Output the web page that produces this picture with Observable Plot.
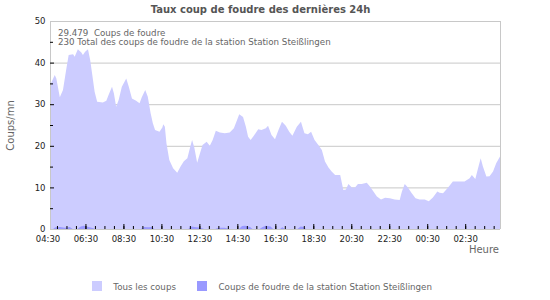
<!DOCTYPE html>
<html>
<head>
<meta charset="utf-8">
<script src="https://cdn.jsdelivr.net/npm/d3@7"></script>
<script src="https://cdn.jsdelivr.net/npm/@observablehq/plot@0.6"></script>
<style>
  body { margin: 0; background: #fff; }
  #wrap { position: relative; width: 550px; height: 300px; font-family: "DejaVu Sans", sans-serif; }
  #wrap svg { position: absolute; left: 0; top: 0; }
  .sw { position: absolute; top: 281px; width: 10px; height: 10px; }
  .leg { position: absolute; top: 281.5px; font-size: 8.7px; line-height: 10px; color: #666; white-space: nowrap; }
</style>
</head>
<body>
<div id="wrap"></div>
<script>
// ---- texts ----
const title = "Taux coup de foudre des dernières 24h";
const yLabel = "Coups/mn";
const xLabel = "Heure";
const noteLine1 = "29.479\u00a0 Coups de foudre";
const noteLine2 = "230 Total des coups de foudre de la station Station Steißlingen";
const seriesNames = ["Tous les coups", "Coups de foudre de la station Station Steißlingen"];
const seriesColors = ["#ccccff", "#9999ff"];

// ---- axis ----
const startTime = "04:38";
const endTime = "04:20";
const xTickLabels = ["04:30","06:30","08:30","10:30","12:30","14:30","16:30","18:30","20:30","22:30","00:30","02:30"];
const yTicks = [0, 10, 20, 30, 40, 50];
const yGridTicks = [10, 20, 30, 40];
const yMinorTicks = [5, 15, 25, 35, 45];

// ---- series: all strikes (strikes per minute) ----
const allTimes = ["04:38","04:53","04:58","05:09","05:19","05:29","05:37","05:51","05:56","06:06","06:17","06:22","06:29","06:38","06:45","06:51","06:59","07:07","07:25","07:36","07:43","07:54","08:00","08:07","08:15","08:25","08:39","08:47","08:57","09:10","09:21","09:28","09:39","09:47","09:56","10:03","10:10","10:24","10:33","10:36","10:41","10:46","10:55","11:07","11:20","11:31","11:41","11:52","12:00","12:07","12:14","12:23","12:32","12:40","12:53","13:03","13:12","13:22","13:35","13:50","14:06","14:19","14:27","14:36","14:48","14:57","15:04","15:12","15:22","15:36","15:46","16:00","16:07","16:18","16:29","16:40","16:51","17:03","17:14","17:24","17:38","17:51","18:02","18:13","18:23","18:34","18:46","18:57","19:07","19:18","19:28","19:39","19:55","20:05","20:13","20:21","20:32","20:42","20:51","21:03","21:19","21:29","21:40","21:51","22:04","22:17","22:32","22:47","23:03","23:10","23:19","23:29","23:40","23:53","00:06","00:22","00:35","00:48","01:02","01:09","01:20","01:36","01:51","02:07","02:28","02:44","02:51","03:02","03:10","03:19","03:26","03:37","03:47","03:58","04:08","04:20"];
const allValues = [34.5,37,36.2,31.7,33.4,38.2,41.8,42,41.4,43.2,42.4,41.8,42.6,43.2,40.6,37.4,33,30.6,30.4,30.8,32.2,34.2,32.6,29.4,31,34.2,36.2,34.2,31.4,30.8,30.2,31.7,33.4,31.8,27.8,25.4,23.8,23.4,24.4,25.2,24.6,20.6,16.6,14.6,13.5,15.1,16.3,17,19.4,21.4,19.6,15.9,18.2,20.2,21,20,21.4,23.6,23.2,23,23.2,24.2,25.8,27.6,26.9,24.6,22.2,21.4,22.4,24,23.8,24.2,24.8,22.6,21.6,23.8,25.8,24.8,23.4,22.4,24.6,25.8,23,22.8,23.4,21.4,20.2,19,16.2,14.8,13.8,13,13,9.4,9.5,10.8,10,10,10.8,10.8,11.1,10.2,9,7.8,7.1,7.5,7.4,7.1,7,9,10.8,10,8.7,7.4,7.1,7.1,6.7,7.6,9,8.7,8.6,10,11.4,11.4,11.4,12.2,13,12,14.4,17,15,12.6,12.7,13.8,15.8,17.4];

// ---- series: station strikes ----
const stationTimes = ["04:38","04:48","04:55","05:10","05:25","05:40","05:50","06:05","06:15","06:25","06:40","06:55","07:00","09:25","09:35","09:50","10:00","10:08","11:55","12:05","12:15","12:35","12:45","13:20","13:30","13:50","14:05","14:35","14:45","14:55","15:10","15:18","15:40","15:50","16:00","16:15","16:23","16:45","16:52","17:00","17:40","17:50","18:00","18:07","04:20"];
const stationValues = [0,0,0.4,0.5,0.3,0.5,0,0,0.6,0.8,0.5,0.2,0,0,0.5,0.4,0.5,0,0,0.6,0.5,0.3,0,0,0.3,0.3,0,0,0.7,0.8,0.5,0,0,0.5,0.8,0.6,0,0,0.4,0,0,0.6,0.5,0,0];

// ---- build ----
const parse = s => {
  const [h, m] = s.split(":").map(Number);
  const mins = h * 60 + m;
  return new Date(Date.UTC(2024, 0, mins < 270 ? 2 : 1, h, m));
};
const all = allTimes.map((t, i) => ({t: parse(t), v: allValues[i]}));
const st = stationTimes.map((t, i) => ({t: parse(t), v: stationValues[i]}));
const x0 = parse(startTime), x1 = parse(endTime);
const majorTicks = xTickLabels.map(parse);
const minorTicks = d3.utcMinute.every(30).range(majorTicks[0], x1).filter(d => d >= x0);
const majorTickMarks = majorTicks.filter(d => d >= x0);
const fmt = d3.utcFormat("%H:%M");
const blank = () => "";

const chart = Plot.plot({
  width: 550,
  height: 300,
  marginLeft: 50,
  marginRight: 50,
  marginTop: 21,
  marginBottom: 71,
  style: {fontFamily: '"DejaVu Sans", sans-serif', fontSize: "8.5px", color: "#222", background: "transparent", overflow: "visible"},
  x: {type: "utc", domain: [x0, x1], label: null},
  y: {domain: [0, 50], label: null},
  marks: [
    Plot.gridY(yGridTicks, {stroke: "#c8c8c8", strokeOpacity: 1}),
    Plot.areaY(all, {x: "t", y: "v", fill: seriesColors[0]}),
    Plot.areaY(st, {x: "t", y: "v", fill: seriesColors[1]}),
    Plot.ruleY([0, 50], {stroke: "#c8c8c8"}),
    Plot.ruleX([x0, x1], {stroke: "#c8c8c8"}),
    Plot.axisY(yTicks, {tickSize: 0, tickPadding: 5, label: null, fill: "#222"}),
    Plot.axisY(yGridTicks, {tickSize: 4, dx: 4, tickFormat: blank, stroke: "#000", label: null}),
    Plot.axisY(yMinorTicks, {tickSize: 3, dx: 3, tickFormat: blank, stroke: "#000", label: null}),
    Plot.axisX(minorTicks, {tickSize: 3, dy: -3, tickFormat: blank, stroke: "#000", label: null}),
    Plot.axisX(majorTickMarks, {tickSize: 5, dy: -5, tickFormat: blank, stroke: "#000", label: null}),
    Plot.axisX(majorTicks, {tickSize: 0, tickPadding: 6, tickFormat: fmt, label: null, fill: "#222"}),
    Plot.text([title], {frameAnchor: "top", dx: -15, dy: -12, textAnchor: "middle", lineAnchor: "middle", fontWeight: "bold", fontSize: 10, fill: "#555"}),
    Plot.text([noteLine1], {frameAnchor: "top-left", dx: 7.5, dy: 12, textAnchor: "start", lineAnchor: "middle", fontSize: 8.7, fill: "#666"}),
    Plot.text([noteLine2], {frameAnchor: "top-left", dx: 7.5, dy: 20.5, textAnchor: "start", lineAnchor: "middle", fontSize: 8.7, fill: "#666"}),
    Plot.text([yLabel], {frameAnchor: "left", dx: -40, rotate: -90, textAnchor: "middle", lineAnchor: "middle", fontSize: 10, fill: "#666"}),
    Plot.text([xLabel], {frameAnchor: "bottom-right", dx: -1.5, dy: 20, textAnchor: "end", lineAnchor: "middle", fontSize: 10, fill: "#666"})
  ]
});

const wrap = document.getElementById("wrap");
wrap.appendChild(chart);

// legend
const legendPos = [{sw: 92, tx: 113.3}, {sw: 197, tx: 218.5}];
seriesNames.forEach((name, i) => {
  const s = document.createElement("div");
  s.className = "sw";
  s.style.left = legendPos[i].sw + "px";
  s.style.background = seriesColors[i];
  wrap.appendChild(s);
  const t = document.createElement("div");
  t.className = "leg";
  t.style.left = legendPos[i].tx + "px";
  t.textContent = name;
  wrap.appendChild(t);
});
</script>
</body>
</html>
